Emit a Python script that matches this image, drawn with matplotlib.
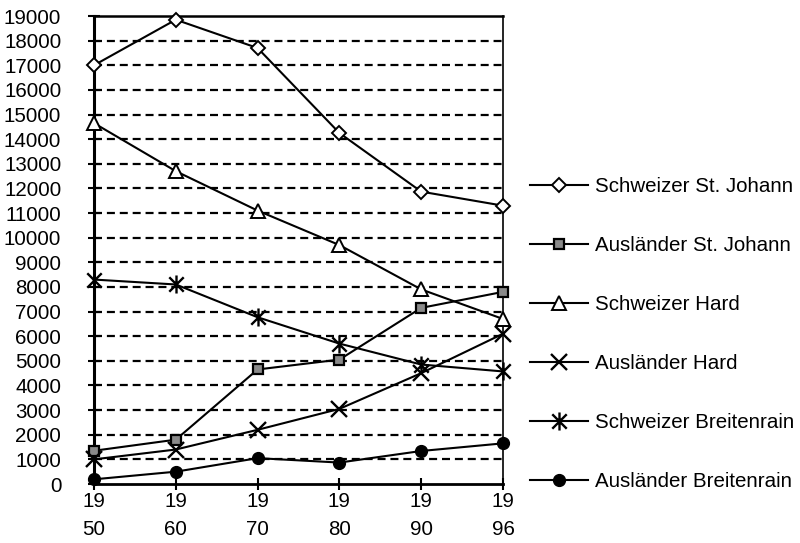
import matplotlib
matplotlib.use("Agg")
import matplotlib.pyplot as plt
from matplotlib.path import Path

plt.rcParams['font.family'] = ['Liberation Sans', 'DejaVu Sans']

years = ["19\n50", "19\n60", "19\n70", "19\n80", "19\n90", "19\n96"]

schweizer_st_johann = [17000, 18850, 17700, 14250, 11870, 11300]
auslaender_st_johann = [1350, 1800, 4650, 5050, 7150, 7800]
schweizer_hard = [14650, 12700, 11100, 9700, 7900, 6700]
auslaender_hard = [1000, 1400, 2200, 3050, 4500, 6100]
schweizer_breitenrain = [8300, 8100, 6770, 5700, 4850, 4570]
auslaender_breitenrain = [190, 500, 1050, 870, 1340, 1650]

labels = ["Schweizer St. Johann", "Ausländer St. Johann", "Schweizer Hard",
          "Ausländer Hard", "Schweizer Breitenrain", "Ausländer Breitenrain"]

# asterisk marker: vertical bar plus an x
star = Path([(0, -1), (0, 1), (-0.8, -0.8), (0.8, 0.8), (-0.8, 0.8), (0.8, -0.8)],
            [Path.MOVETO, Path.LINETO, Path.MOVETO, Path.LINETO, Path.MOVETO, Path.LINETO])

fig = plt.figure(figsize=(8, 5.43), dpi=100)
ax = fig.add_axes([94 / 800, 1 - 484 / 543, (503 - 94) / 800, (484 - 16) / 543])

x = list(range(len(years)))
lw = 1.5
ax.plot(x, schweizer_st_johann, color='black', lw=lw, marker='D', ms=7.5,
        mfc='white', mec='black', mew=1.4, label=labels[0], clip_on=False, zorder=5)
ax.plot(x, auslaender_st_johann, color='black', lw=lw, marker='s', ms=7.5,
        mfc='#8a8a8a', mec='black', mew=1.6, label=labels[1], clip_on=False, zorder=5)
ax.plot(x, schweizer_hard, color='black', lw=lw, marker='^', ms=10,
        mfc='white', mec='black', mew=1.4, label=labels[2], clip_on=False, zorder=5)
ax.plot(x, auslaender_hard, color='black', lw=lw, marker='x', ms=11,
        mec='black', mew=1.7, label=labels[3], clip_on=False, zorder=5)
ax.plot(x, schweizer_breitenrain, color='black', lw=lw, marker=star, ms=13,
        mec='black', mew=1.7, label=labels[4], clip_on=False, zorder=5)
ax.plot(x, auslaender_breitenrain, color='black', lw=lw, marker='o', ms=8.5,
        mfc='black', mec='black', label=labels[5], clip_on=False, zorder=5)

ax.set_xlim(0, 5)
ax.set_ylim(0, 19000)
ax.set_yticks(range(0, 19001, 1000))
ax.set_xticks(x)
ax.set_xticklabels(years, linespacing=1.6)

for v in range(1000, 19000, 1000):
    ax.axhline(v, color='black', lw=1.6, ls=(0, (3.6, 2.2)), zorder=1)

ax.spines['left'].set_linewidth(2.2)
ax.spines['bottom'].set_linewidth(2.0)
ax.spines['top'].set_linewidth(1.8)
ax.spines['right'].set_linewidth(1.2)

ax.tick_params(axis='y', direction='inout', length=9, width=1.5, labelsize=14.8, pad=19)
ax.tick_params(axis='x', direction='inout', length=9, width=1.5, labelsize=14.8, pad=1)

fig.legend(loc='upper left', bbox_to_anchor=(530 / 800, 1 - 177 / 543),
           frameon=False, fontsize=14.8, handlelength=2.8, handletextpad=0.35,
           labelspacing=1.95, borderpad=0, borderaxespad=0, numpoints=1)

fig.savefig("out.png", dpi=100)
